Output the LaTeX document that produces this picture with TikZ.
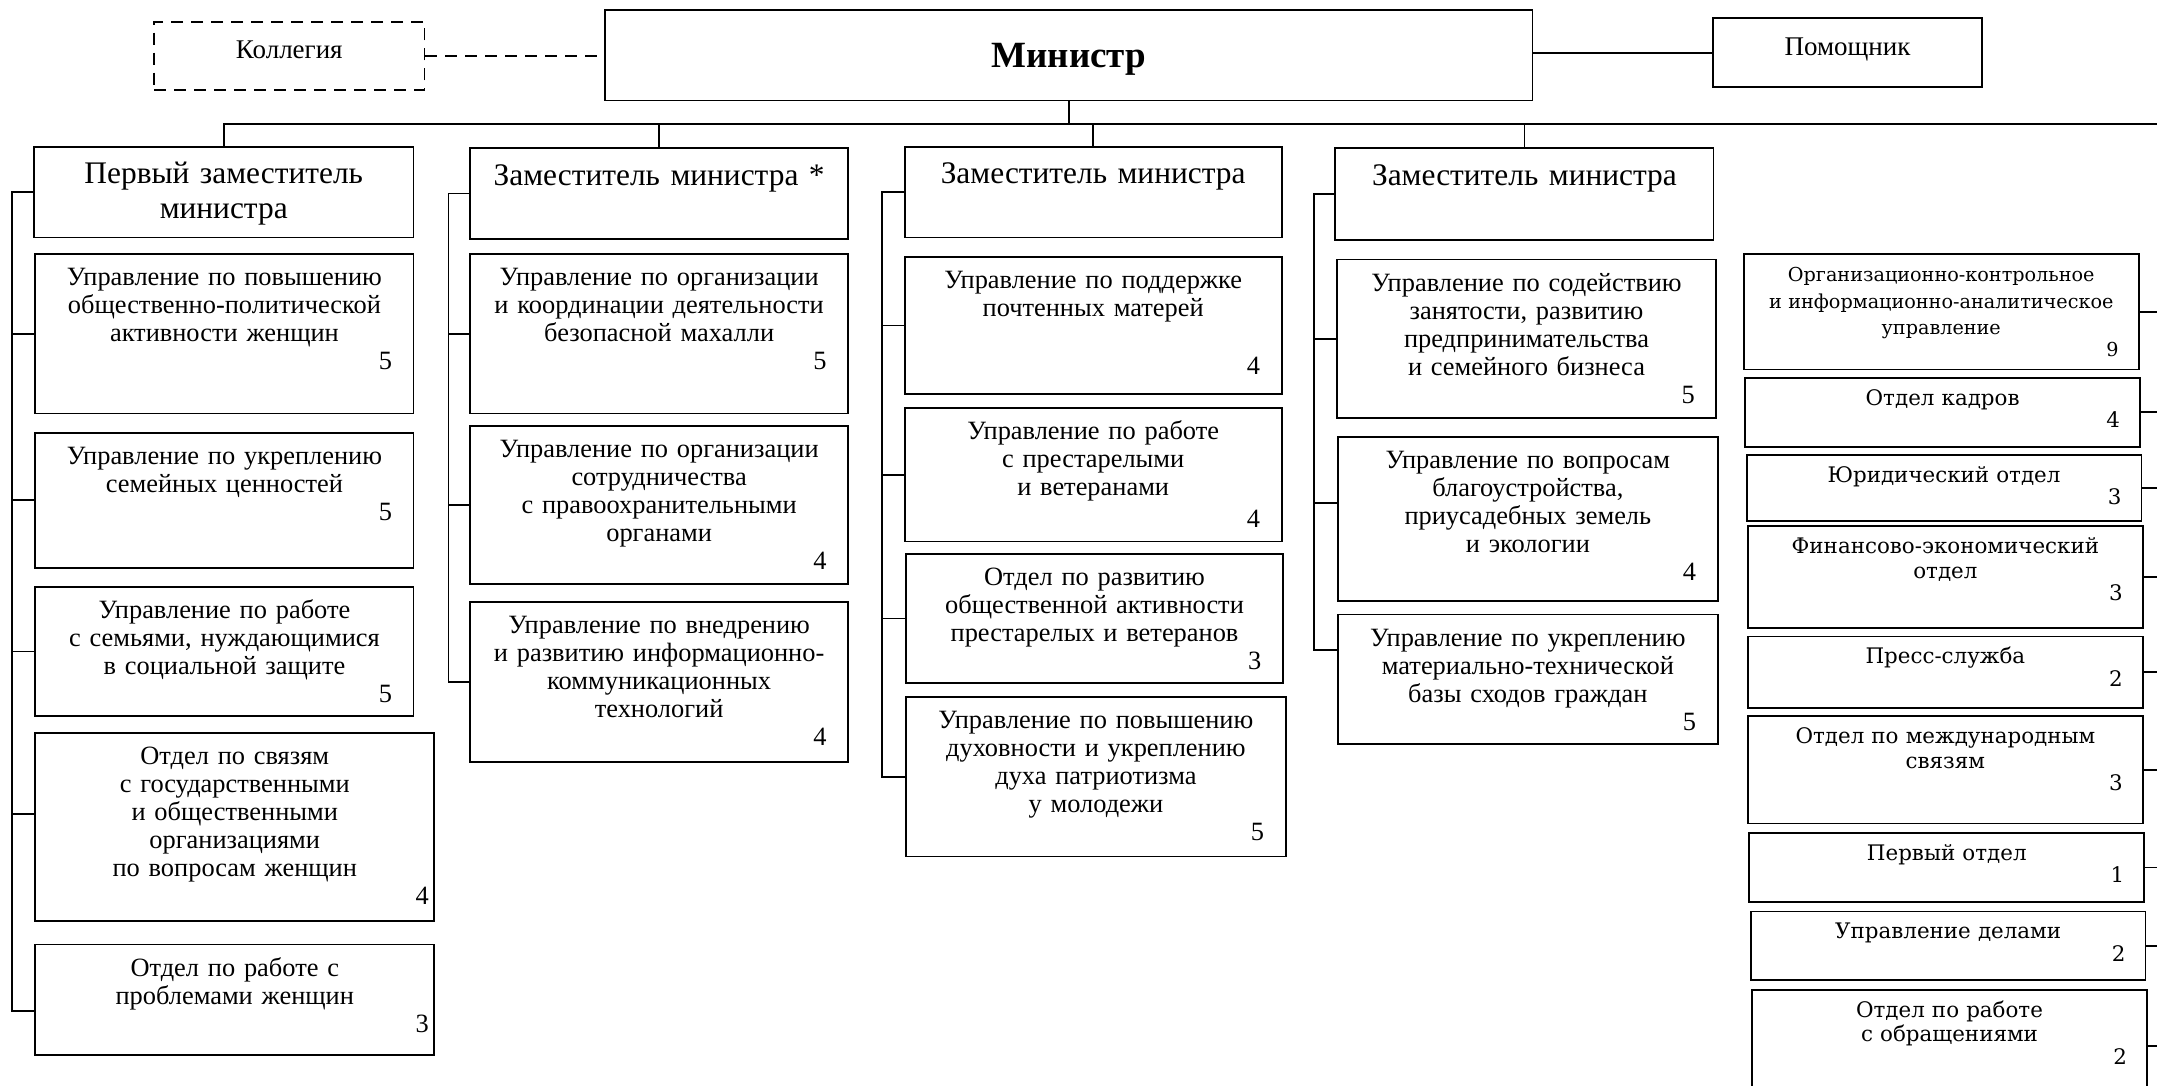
\documentclass[tikz,border=0pt]{standalone}
\usepackage{fontspec}
\setmainfont{Liberation Serif}
\newfontfamily\staffserif{DejaVu Serif}
\newcommand\unitfont{\fontsize{13.2}{14}\selectfont}
\newcommand\headfont{\fontsize{15.7}{17.5}\selectfont}
\newcommand\stafffont{\staffserif\fontsize{10.7}{12.4}\selectfont}
\newcommand\staffsmallfont{\staffserif\fontsize{9.6}{13.4}\selectfont}
\newcommand\unitnr[2][0pt]{\\[#1]\mbox{}\hfill #2\mbox{\hspace{2.8pt}}}
\newcommand\unitnrwide[1]{\\\mbox{}\hfill #1\mbox{\hspace{-5.3pt}}}
\newcommand\staffnr[2][-1.1pt]{\\[#1]\mbox{}\hfill #2\mbox{\hspace{1pt}}}
\tikzset{
  padx/.code={\def\padx{#1}},
  padv/.code={\def\padv{#1}},
  boxw/.code={\pgfmathsetmacro\boxwd{#1*0.6878-2*\padx}\tikzset{text width=\boxwd pt}},
  boxh/.code={\pgfmathsetmacro\boxdp{#1*0.6878-\padv}\tikzset{text depth=\boxdp pt}},
}
\tikzstyle{unit}=[draw, line width=0.9pt, anchor=north west, align=center, font=\unitfont,
  inner xsep=8pt, inner ysep=7pt, text height=8.8pt, padx=8, padv=22.8]
\tikzstyle{deputy}=[unit, font=\headfont, text height=11.6pt, padv=25.6]
\tikzstyle{staff}=[unit, font=\stafffont, inner xsep=9pt, inner ysep=5pt, text height=8.6pt, padx=9, padv=18.6]
\tikzstyle{topbox}=[draw, line width=0.9pt, font=\fontsize{13.5}{15}\selectfont, text height=8.6pt, text depth=5.8pt]
\tikzstyle{link}=[line width=0.9pt]
\begin{document}
\begin{tikzpicture}[x=0.6878pt, y=-0.6878pt]
                    \useasboundingbox (0,0) rectangle (1568,789);
                    \node[topbox, minimum width=463.6pt, minimum height=45.4pt, font=\fontsize{18.5}{20}\selectfont\bfseries, text height=12.5pt, text depth=0pt] (min) at (777, 40) {Министр};
                    \node[topbox, dash pattern=on 6pt off 4pt, minimum width=135.2pt, minimum height=34.1pt] (kol) at (210.3, 40.6) {Коллегия};
                    \node[topbox, minimum width=134.8pt, minimum height=34.5pt] (pom) at (1343, 38.4) {Помощник};
                    \node[deputy, boxw=276, boxh=66] (h1) at (24, 106) {Первый заместитель\\министра};
                    \node[deputy, boxw=275, boxh=66] (h2) at (341, 107) {Заместитель министра *};
                    \node[deputy, boxw=274, boxh=66] (h3) at (657, 106) {Заместитель министра};
                    \node[deputy, boxw=275, boxh=67] (h4) at (970, 107) {Заместитель министра};
                    \node[unit, boxw=275, boxh=116] (u11) at (25, 184) {Управление по повышению\\общественно-политической\\активности женщин\unitnr{5}};
                    \node[unit, boxw=275, boxh=98]  (u12) at (25, 314) {Управление по укреплению\\семейных ценностей\unitnr{5}};
                    \node[unit, boxw=275, boxh=94]  (u13) at (25, 426) {Управление по работе\\с семьями, нуждающимися\\в социальной защите\unitnr{5}};
                    \node[unit, boxw=290, boxh=137] (u14) at (25, 532) {Отдел по связям\\с государственными\\и общественными\\организациями\\по вопросам женщин\unitnrwide{4}};
                    \node[unit, boxw=290, boxh=80]  (u15) at (25, 686) {Отдел по работе с\\проблемами женщин\unitnrwide{3}};
                    \node[unit, boxw=275, boxh=116] (u21) at (341, 184) {Управление по организации\\и координации деятельности\\безопасной махалли\unitnr{5}};
                    \node[unit, boxw=275, boxh=115] (u22) at (341, 309) {Управление по организации\\сотрудничества\\с правоохранительными\\органами\unitnr{4}};
                    \node[unit, boxw=275, boxh=116] (u23) at (341, 437) {Управление по внедрению\\и развитию информационно-\\коммуникационных\\технологий\unitnr{4}};
                    \node[unit, boxw=274, boxh=100] (u31) at (657, 186) {Управление по поддержке\\почтенных матерей\unitnr[15pt]{4}};
                    \node[unit, boxw=274, boxh=97]  (u32) at (657, 296) {Управление по работе\\с престарелыми\\и ветеранами\unitnr[2pt]{4}};
                    \node[unit, boxw=274, boxh=94]  (u33) at (658, 402) {Отдел по развитию\\общественной активности\\престарелых и ветеранов\unitnr{3}};
                    \node[unit, boxw=276, boxh=116] (u34) at (658, 506) {Управление по повышению\\духовности и укреплению\\духа патриотизма\\у молодежи\unitnr{5}};
                    \node[unit, boxw=276, boxh=115] (u41) at (971, 188) {Управление по содействию\\занятости, развитию\\предпринимательства\\и семейного бизнеса\unitnr{5}};
                    \node[unit, boxw=276, boxh=119] (u42) at (972, 317) {Управление по вопросам\\благоустройства,\\приусадебных земель\\и экологии\unitnr{4}};
                    \node[unit, boxw=276, boxh=94]  (u43) at (972, 446) {Управление по укреплению\\материально-технической\\базы сходов граждан\unitnr{5}};
                    \node[staff, font=\staffsmallfont, boxw=287, boxh=84] (r1) at (1267, 184) {Организационно-контрольное\\и информационно-аналитическое\\управление\staffnr[-2.7pt]{9}};
                    \node[staff, boxw=287, boxh=50] (r2) at (1268, 274) {Отдел кадров\staffnr{4}};
                    \node[staff, boxw=287, boxh=48] (r3) at (1269, 330) {Юридический отдел\staffnr{3}};
                    \node[staff, boxw=287, boxh=74] (r4) at (1270, 382) {Финансово-экономический\\отдел\staffnr{3}};
                    \node[staff, boxw=287, boxh=52] (r5) at (1270, 462) {Пресс-служба\staffnr{2}};
                    \node[staff, boxw=287, boxh=78] (r6) at (1270, 520) {Отдел по международным\\связям\staffnr{3}};
                    \node[staff, boxw=287, boxh=50] (r7) at (1271, 605) {Первый отдел\staffnr{1}};
                    \node[staff, boxw=287, boxh=50] (r8) at (1272, 662) {Управление делами\staffnr{2}};
                    \node[staff, boxw=287, boxh=82] (r9) at (1273, 719) {Отдел по работе\\с обращениями\staffnr{2}};
                    \coordinate (busR) at (1572, 90);
                    \coordinate (s1) at (9, 0);
                    \coordinate (s2) at (326, 0);
                    \coordinate (s3) at (641, 0);
                    \coordinate (s4) at (955, 0);
                    \coordinate (t14) at ([yshift=6.5pt]u14.west);
                    \coordinate (t15) at ([yshift=-5.5pt]u15.west);
                    \coordinate (t42) at ([yshift=7.9pt]u42.west);
                    \coordinate (t43) at ([yshift=14.4pt]u43.west);
                    \draw[link, dash pattern=on 6pt off 4pt] (kol.east) -- (kol.east -| min.west);
                    \draw[link] (min.east |- pom.west) -- (pom.west);
                    \draw[link] (min.south) -- (min.south |- busR);
                    \draw[link] (h1.north) |- (busR);
                    \draw[link] (h2.north) -- (h2.north |- busR);
                    \draw[link] (h3.north) -- (h3.north |- busR);
                    \draw[link] (h4.north) -- (h4.north |- busR);
                    \draw[link] (h1.west) -| (s1 |- t15) -- (t15);
                    \foreach \n in {11,12,13} \draw[link] (u\n.west) -- (u\n.west -| s1);
                    \draw[link] (t14) -- (t14 -| s1);
                    \draw[link] (h2.west) -| (s2 |- u23.west) -- (u23.west);
                    \foreach \n in {21,22} \draw[link] (u\n.west) -- (u\n.west -| s2);
                    \draw[link] (h3.west) -| (s3 |- u34.west) -- (u34.west);
                    \foreach \n in {31,32,33} \draw[link] (u\n.west) -- (u\n.west -| s3);
                    \draw[link] (h4.west) -| (s4 |- t43) -- (t43);
                    \draw[link] (u41.west) -- (u41.west -| s4);
                    \draw[link] (t42) -- (t42 -| s4);
                    \draw[link] (busR) -- (busR |- r9.east);
                    \foreach \n in {1,...,9} \draw[link] (r\n.east) -- (r\n.east -| busR);
                \end{tikzpicture}
\end{document}
